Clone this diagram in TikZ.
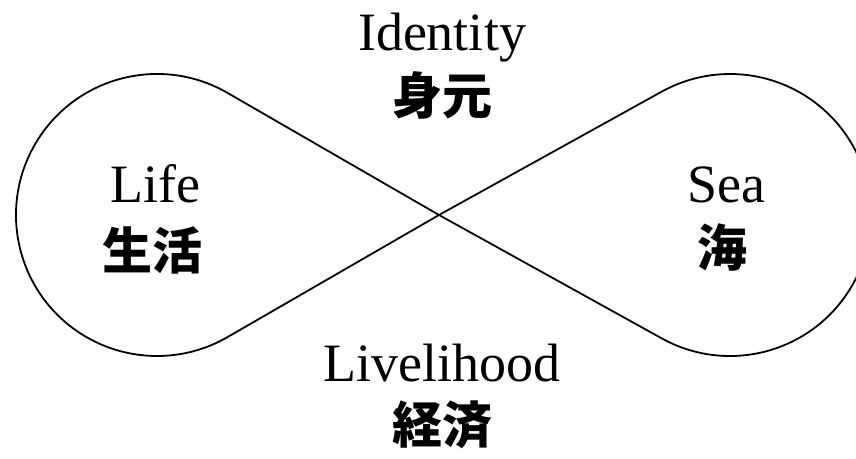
\documentclass[tikz,border=0pt]{standalone}
\usepackage{fontspec}
\setmainfont{Liberation Serif}
\newfontfamily\jpfont{Noto Sans CJK JP}
\usepackage{tikz}
\usetikzlibrary{positioning,calc}

\begin{document}
\begin{tikzpicture}[
    x=1pt, y=1pt,
    entxt/.style={font=\fontsize{54}{60}\selectfont, anchor=base},
    jptxt/.style={font=\jpfont\bfseries\fontsize{50}{56}\selectfont},
    loopline/.style={draw, line width=1.8pt, line join=round}
]
    \useasboundingbox (0,0) rectangle (856,458);

    % crossing point and loop centres
    \coordinate (cross) at (439,243);
    \coordinate (lifeC) at (157,243);
    \coordinate (seaC) at (730,243);

    \path[loopline] (cross) -- ([shift={(60:141pt)}]lifeC)
        arc[start angle=60, end angle=300, radius=141pt] -- (cross)
        -- ([shift={(241:141pt)}]seaC)
        arc[start angle=241, end angle=479, radius=141pt] -- cycle;

    \node[entxt] (identity) at (442,407) {Identity};
    \node[jptxt] (identityJp) at (442,363) {身元};

    \node[entxt] (life) at (155,255) {Life};
    \node[jptxt] (lifeJp) at (152,208) {生活};

    \node[entxt] (sea) at (726,255) {Sea};
    \node[jptxt] (seaJp) at (722,210) {海};

    \node[entxt] (livelihood) at (442,77) {Livelihood};
    \node[jptxt] (livelihoodJp) at (442,33) {経済};
\end{tikzpicture}
\end{document}
